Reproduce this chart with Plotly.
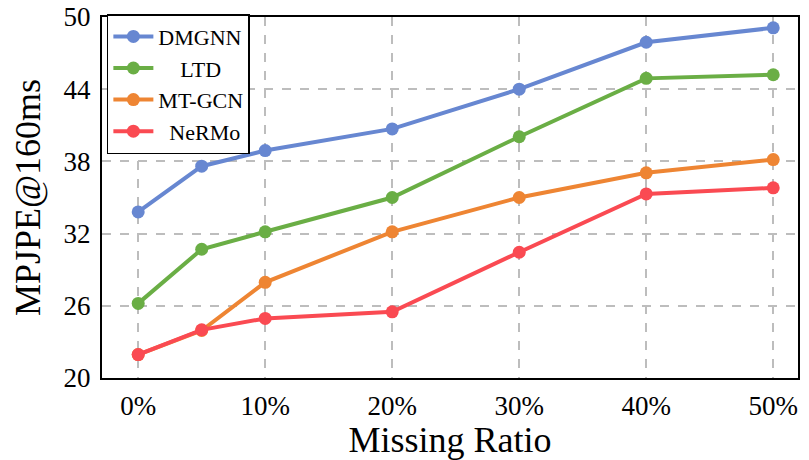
import plotly.graph_objects as go

missing_ratio = [0, 5, 10, 20, 30, 40, 50]
x_tick_vals = [0, 10, 20, 30, 40, 50]
x_tick_text = ["0%", "10%", "20%", "30%", "40%", "50%"]
y_tick_vals = [20, 26, 32, 38, 44, 50]

dmgnn = [33.8, 37.6, 38.9, 40.7, 44.0, 47.9, 49.1]
ltd = [26.2, 30.7, 32.15, 35.0, 40.05, 44.9, 45.2]
mtgcn = [21.95, 23.95, 27.95, 32.15, 35.0, 37.05, 38.15]
nermo = [21.95, 24.0, 24.95, 25.5, 30.45, 35.3, 35.8]

series = [
    ("DMGNN", dmgnn, "#6787d1", ""),
    ("LTD", ltd, "#6aae45", "\u00a0\u00a0\u00a0\u00a0"),
    ("MT-GCN", mtgcn, "#ee8533", ""),
    ("NeRMo", nermo, "#fa4a52", "\u00a0\u00a0"),
]

fig = go.Figure()
for name, vals, color, pad in series:
    fig.add_trace(go.Scatter(
        x=missing_ratio, y=vals, name=pad + name, mode="lines+markers",
        line=dict(color=color, width=4),
        marker=dict(color=color, size=13),
    ))

font_family = "Liberation Serif, Times New Roman, serif"
fig.update_layout(
    width=809, height=460,
    margin=dict(l=102, r=11, t=17, b=82),
    paper_bgcolor="white", plot_bgcolor="white",
    font=dict(family=font_family, color="black"),
    showlegend=True,
    legend=dict(
        x=0.007, y=1.008, xanchor="left", yanchor="top",
        bgcolor="white", bordercolor="black", borderwidth=1.5,
        font=dict(size=22, family=font_family),
        tracegroupgap=0, itemwidth=40,
    ),
)
fig.update_xaxes(
    range=[-2.85, 51.95], tickvals=x_tick_vals, ticktext=x_tick_text,
    showline=True, mirror=True, linecolor="black", linewidth=2,
    showgrid=True, gridcolor="#bdbdbd", griddash="dash", gridwidth=1.5,
    zeroline=False, ticks="", ticklabelstandoff=3, ticklabeloverflow="allow",
    automargin=False,
    tickfont=dict(size=27, family=font_family),
    title=dict(text="Missing Ratio", font=dict(size=36, family=font_family), standoff=8),
)
fig.update_yaxes(
    range=[20, 50], tickvals=y_tick_vals,
    showline=True, mirror=True, linecolor="black", linewidth=2,
    showgrid=True, gridcolor="#bdbdbd", griddash="dash", gridwidth=1.5,
    zeroline=False, ticks="", ticklabelstandoff=4, ticklabeloverflow="allow",
    automargin=False,
    tickfont=dict(size=27, family=font_family),
    title=dict(text="MPJPE@160ms", font=dict(size=36, family=font_family), standoff=12),
)

fig.write_html("out.html")
